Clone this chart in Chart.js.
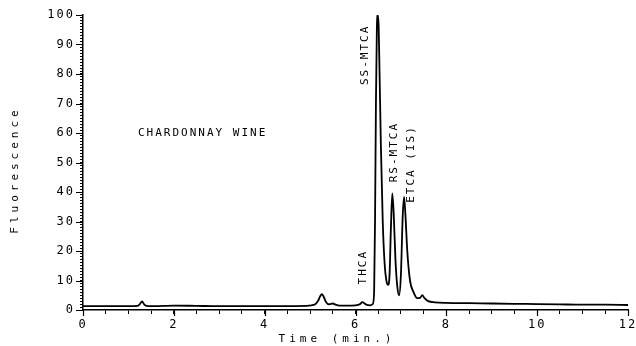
<!DOCTYPE html>
<html>
<head>
<meta charset="utf-8">
<script src="https://cdn.jsdelivr.net/npm/chart.js@4.4.0/dist/chart.umd.min.js"></script>
<style>
  html, body { margin: 0; padding: 0; background: #fff; }
</style>
</head>
<body>
<canvas id="chart" width="636" height="346"></canvas>
<script>
// chromatogram trace
var timeMin = [0, 0.5, 1.0, 1.2, 1.25, 1.3, 1.35, 1.4, 1.5, 2.0, 2.5, 3.0, 3.5, 4.0, 4.5, 4.9,
    5.1, 5.18, 5.22, 5.26, 5.3, 5.35, 5.42, 5.5, 5.56, 5.65, 5.8, 6.0, 6.1, 6.15, 6.2, 6.25,
    6.32, 6.38, 6.41, 6.43, 6.45, 6.47, 6.49, 6.51, 6.53, 6.56, 6.6, 6.64, 6.68, 6.72, 6.75,
    6.78, 6.81, 6.84, 6.88, 6.92, 6.96, 7.0, 7.04, 7.07, 7.1, 7.14, 7.2, 7.28, 7.36, 7.42,
    7.47, 7.52, 7.6, 7.75, 8.0, 8.5, 9.0, 9.5, 10, 10.5, 11, 11.5, 12];
var fluorescence = [1.3, 1.3, 1.3, 1.4, 2.0, 2.9, 1.8, 1.4, 1.3, 1.5, 1.4, 1.3, 1.3, 1.3, 1.3, 1.4,
    1.8, 3.2, 4.6, 5.4, 4.5, 2.7, 1.9, 2.2, 1.8, 1.5, 1.5, 1.6, 2.0, 2.7, 2.2, 1.7,
    1.6, 2.0, 6, 30, 70, 95, 100, 96, 80, 55, 30, 16, 10, 8.5, 12,
    28, 39.5, 33, 17, 8, 5, 12, 32, 38.3, 32, 20, 10, 6, 4, 4.1,
    5.0, 4.0, 3.0, 2.6, 2.4, 2.3, 2.2, 2.1, 2.0, 1.9, 1.8, 1.8, 1.7];

var xMajorStep = 2, xMinorStep = 0.5;
var yMajorStep = 10, yMinorStep = 1;

var peakNames = ['THCA', 'SS-MTCA', 'RS-MTCA', 'ETCA (IS)'];
var peakNameTime = [6.17, 6.21, 6.85, 7.22];
var peakNameLevel = [14.5, 86.5, 53.5, 49.5];

var FONT = '"DejaVu Sans Mono", monospace';

function isMajor(v, step) {
    return Math.abs(v / step - Math.round(v / step)) < 1e-6;
}

// longer major ticks, axis titles and annotations drawn over the chart
var extras = {
    id: 'extras',
    beforeLayout: function (chart) { chart.ctx.letterSpacing = '2px'; },
    beforeDraw: function (chart) { chart.ctx.letterSpacing = '2px'; },
    afterDraw: function (chart) {
        var ctx = chart.ctx, xs = chart.scales.x, ys = chart.scales.y;
        var area = chart.chartArea;
        ctx.save();
        ctx.strokeStyle = '#000';
        ctx.lineWidth = 1.2;
        ctx.beginPath();
        for (var v = 0; v <= 100; v += yMajorStep) {
            var py = Math.round(ys.getPixelForValue(v)) + 0.5;
            ctx.moveTo(area.left - 7, py);
            ctx.lineTo(area.left, py);
        }
        for (var t = 0; t <= 12; t += xMajorStep) {
            var px = Math.round(xs.getPixelForValue(t)) + 0.5;
            ctx.moveTo(px, area.bottom);
            ctx.lineTo(px, area.bottom + 6);
        }
        ctx.stroke();

        ctx.fillStyle = '#000';
        ctx.font = '11px ' + FONT;
        ctx.letterSpacing = '2px';
        ctx.textAlign = 'left';
        ctx.textBaseline = 'middle';
        ctx.fillText('CHARDONNAY WINE', xs.getPixelForValue(1.21), ys.getPixelForValue(60));

        for (var i = 0; i < peakNames.length; i++) {
            ctx.save();
            ctx.translate(xs.getPixelForValue(peakNameTime[i]), ys.getPixelForValue(peakNameLevel[i]));
            ctx.rotate(-Math.PI / 2);
            ctx.textAlign = 'center';
            ctx.fillText(peakNames[i], 0, 0);
            ctx.restore();
        }

        // axis titles, widely spaced like the plotter lettering
        ctx.letterSpacing = '4px';
        ctx.textAlign = 'center';
        ctx.fillText('Time (min.)', 337, 339);
        ctx.save();
        ctx.translate(15, 170);
        ctx.rotate(-Math.PI / 2);
        ctx.fillText('Fluorescence', 0, 0);
        ctx.restore();
        ctx.restore();
    }
};

var ctx = document.getElementById('chart').getContext('2d');
var chart = new Chart(ctx, {
    type: 'line',
    data: {
        labels: timeMin,
        datasets: [{
            data: fluorescence,
            borderColor: '#000',
            borderWidth: 1.8,
            pointRadius: 0,
            fill: false,
            cubicInterpolationMode: 'monotone'
        }]
    },
    options: {
        responsive: false,
        animation: false,
        events: [],
        layout: { padding: { top: 15, right: 8, left: 0, bottom: 0 } },
        plugins: { legend: { display: false }, tooltip: { enabled: false } },
        scales: {
            x: {
                type: 'linear',
                min: 0, max: 12,
                border: { color: '#000', width: 1.5 },
                grid: { drawOnChartArea: false, color: '#000', tickLength: 4 },
                ticks: {
                    stepSize: xMinorStep, autoSkip: false, maxTicksLimit: 100, maxRotation: 0,
                    color: '#000', font: { family: FONT, size: 12 }, padding: 4,
                    callback: function (v) { return isMajor(v, xMajorStep) ? v : ''; }
                },
                afterFit: function (s) { s.height = 36; s.paddingRight = 0; s.paddingLeft = 0; }
            },
            y: {
                min: 0, max: 100,
                border: { color: '#000', width: 1.5 },
                grid: { drawOnChartArea: false, color: '#000', tickLength: 3 },
                ticks: {
                    stepSize: yMinorStep, autoSkip: false, maxTicksLimit: 200,
                    color: '#000', font: { family: FONT, size: 12 }, padding: 5,
                    callback: function (v) { return isMajor(v, yMajorStep) ? v : ''; }
                },
                afterFit: function (s) { s.width = 83; s.paddingTop = 0; s.paddingBottom = 0; }
            }
        }
    },
    plugins: [extras]
});
</script>
</body>
</html>
